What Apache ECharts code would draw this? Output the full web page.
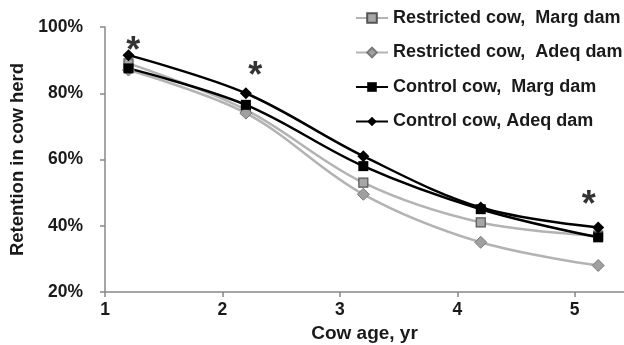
<!DOCTYPE html>
<html>
<head>
<meta charset="utf-8">
<script src="https://cdn.jsdelivr.net/npm/echarts@6/dist/echarts.min.js"></script>
<style>html,body{margin:0;padding:0;background:#fff}#c{width:624px;height:345px}</style>
</head>
<body>
<div id="c"></div>
<script>
var ages = [1.2, 2.2, 3.2, 4.2, 5.2];
var restrictedMarg = [89, 75, 53, 41, 37];
var restrictedAdeq = [87, 74, 49.5, 35, 28];
var controlMarg = [87.5, 76.5, 58, 45, 36.5];
var controlAdeq = [91.5, 80, 61, 45.5, 39.5];
var seriesNames = ['Restricted cow,  Marg dam', 'Restricted cow,  Adeq dam', 'Control cow,  Marg dam', 'Control cow, Adeq dam'];
var asteriskX = [1.24, 2.28, 5.12];
var asteriskY = [95.5, 88, 49];

function pairs(xs, ys) { return xs.map(function (x, i) { return [x, ys[i]]; }); }

var font = 'Liberation Sans, Arial, sans-serif';
var chart = echarts.init(document.getElementById('c'));
var grayLine = '#b3b3b3';
chart.setOption({
  animation: false,
  grid: { left: 105, right: 0, top: 27, bottom: 53, containLabel: false, outerBoundsMode: 'none' },
  legend: {
    orient: 'vertical', left: 350, top: 4,
    itemWidth: 32, itemHeight: 12, itemGap: 16.5,
    textStyle: { fontFamily: font, fontWeight: 'bold', fontSize: 18, color: '#1a1a1a' },
    data: seriesNames
  },
  xAxis: {
    type: 'value', min: 1, max: 5.42, interval: 1,
    name: 'Cow age, yr', nameLocation: 'middle', nameGap: 28,
    nameTextStyle: { fontFamily: font, fontWeight: 'bold', fontSize: 19, color: '#1a1a1a' },
    axisLine: { show: true, lineStyle: { color: '#888', width: 1.5 } },
    axisTick: { show: true, length: 5, lineStyle: { color: '#888', width: 1.5 } },
    axisLabel: { fontFamily: font, fontWeight: 'bold', fontSize: 17.5, color: '#1a1a1a', margin: 9,
      showMaxLabel: false },
    splitLine: { show: false }
  },
  yAxis: {
    type: 'value', min: 20, max: 100, interval: 20,
    name: 'Retention in cow herd', nameLocation: 'middle', nameGap: 75, nameRotate: 90,
    nameTextStyle: { fontFamily: font, fontWeight: 'bold', fontSize: 18.5, color: '#1a1a1a' },
    axisLine: { show: true, lineStyle: { color: '#888', width: 1.5 } },
    axisTick: { show: true, length: 5, lineStyle: { color: '#888', width: 1.5 } },
    axisLabel: { fontFamily: font, fontWeight: 'bold', fontSize: 17.5, color: '#1a1a1a', margin: 22,
      formatter: '{value}%' },
    splitLine: { show: false }
  },
  series: [
    { name: seriesNames[0], type: 'line', smooth: 0.35, data: pairs(ages, restrictedMarg),
      symbol: 'rect', symbolSize: 9,
      lineStyle: { color: grayLine, width: 2.5 },
      itemStyle: { color: '#a6a6a6', borderColor: '#555', borderWidth: 1.2 } },
    { name: seriesNames[1], type: 'line', smooth: 0.35, data: pairs(ages, restrictedAdeq),
      symbol: 'diamond', symbolSize: 12,
      lineStyle: { color: grayLine, width: 2.5 },
      itemStyle: { color: '#a0a0a0', borderColor: '#7a7a7a', borderWidth: 1 } },
    { name: seriesNames[2], type: 'line', smooth: 0.35, data: pairs(ages, controlMarg),
      symbol: 'rect', symbolSize: 10,
      lineStyle: { color: '#000', width: 2.5 },
      itemStyle: { color: '#000', borderColor: '#000', borderWidth: 0 } },
    { name: seriesNames[3], type: 'line', smooth: 0.35, data: pairs(ages, controlAdeq),
      symbol: 'diamond', symbolSize: 12,
      lineStyle: { color: '#000', width: 2.5 },
      itemStyle: { color: '#000', borderColor: '#000', borderWidth: 0 } },
    { name: 'sig', type: 'scatter', data: pairs(asteriskX, asteriskY),
      symbol: 'circle', symbolSize: 1, itemStyle: { color: 'rgba(0,0,0,0)' },
      label: { show: true, position: 'inside', formatter: '*', offset: [0, 10],
        fontFamily: font, fontWeight: 'bold', fontSize: 36, color: '#000' },
      silent: true }
  ]
});
</script>
</body>
</html>
